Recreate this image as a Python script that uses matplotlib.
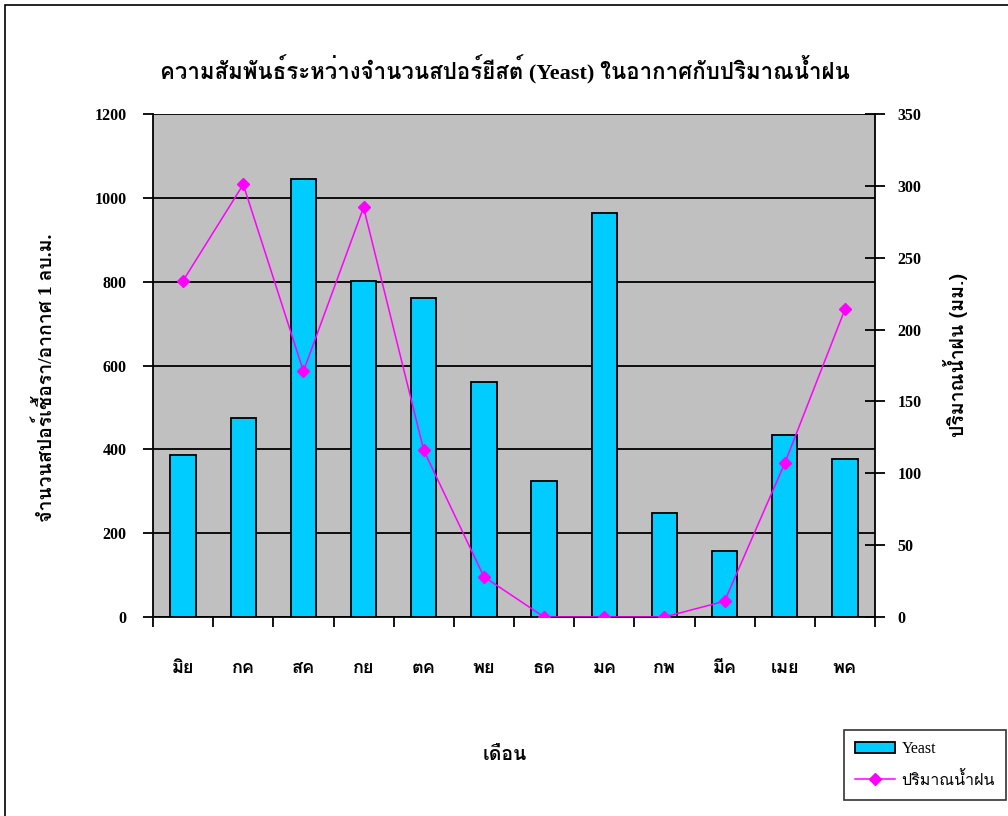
import matplotlib
matplotlib.use("Agg")
import matplotlib.pyplot as plt
from matplotlib import font_manager
from matplotlib.ft2font import FT2Font
from matplotlib.lines import Line2D
from matplotlib.patches import Patch, Rectangle
import numpy as np

months = ["มิย", "กค", "สค", "กย", "ตค", "พย", "ธค", "มค", "กพ", "มีค", "เมย", "พค"]
yeast = [387, 475, 1044, 802, 760, 560, 325, 963, 248, 157, 435, 377]
rain = [234, 301, 171, 285, 116, 28, 0, 0, 0, 11, 107, 214]

left_ticks = [0, 200, 400, 600, 800, 1000, 1200]
right_ticks = [0, 50, 100, 150, 200, 250, 300, 350]

title = "ความสัมพันธ์ระหว่างจำนวนสปอร์ยีสต์ (Yeast) ในอากาศกับปริมาณน้ำฝน"
ylabel_left = "จำนวนสปอร์เชื้อรา/อากาศ 1 ลบ.ม."
ylabel_right = "ปริมาณน้ำฝน (มม.)"
xlabel = "เดือน"
legend_labels = ["Yeast", "ปริมาณน้ำฝน"]


def thai_family():
    # first installed face that actually carries Thai glyphs
    for f in font_manager.fontManager.ttflist:
        try:
            if FT2Font(f.fname).get_char_index(0x0E01):
                return f.name
        except Exception:
            continue
    return "DejaVu Sans"


THAI = thai_family()
NUM = "Liberation Serif"
TH = [THAI, "DejaVu Sans"]
MIX = [NUM, THAI, "DejaVu Sans"]   # serif latin, thai falls through

fig = plt.figure(figsize=(10.08, 8.16), dpi=100)
fig.patch.set_facecolor("white")

# outer chart frame
fig.add_artist(Rectangle((5 / 1008, -0.1), 1.2, 1 - 5 / 816 + 0.1,
                         transform=fig.transFigure, fill=False,
                         edgecolor="black", linewidth=1.2))

ax = fig.add_axes([153 / 1008, 199 / 816, 722 / 1008, 503 / 816])
ax.set_facecolor("#c0c0c0")
x = np.arange(len(months))

ax.bar(x, yeast, width=0.42, color="#00ccff", edgecolor="black",
       linewidth=1.3, zorder=3)
ax.set_xlim(-0.5, len(months) - 0.5)
ax.set_ylim(0, 1200)
ax.set_yticks(left_ticks)
ax.yaxis.grid(True, color="black", linewidth=1.3, zorder=1)
ax.set_axisbelow(True)
for s in ("top", "right"):
    ax.spines[s].set_visible(False)
ax.spines["left"].set_linewidth(1.3)
ax.spines["bottom"].set_linewidth(1.3)
ax.tick_params(axis="y", direction="out", length=7, width=1.3, pad=12)
for lab in ax.get_yticklabels():
    lab.set_fontfamily(NUM)
    lab.set_fontweight("bold")
    lab.set_fontsize(11.5)

# month names centred, boundary ticks between them
ax.set_xticks(x)
ax.set_xticklabels(months, fontfamily=TH, fontsize=13, fontweight="bold")
ax.tick_params(axis="x", which="major", length=0, pad=30)
ax.set_xticks(np.arange(-0.5, len(months)), minor=True)
ax.tick_params(axis="x", which="minor", direction="out", length=7, width=1.3)

ax2 = ax.twinx()
ax2.plot(x, rain, color="#ff00ff", linewidth=1.1, marker="D",
         markersize=6, zorder=4)
ax2.set_ylim(0, 350)
ax2.set_yticks(right_ticks)
for s in ("top", "left", "bottom"):
    ax2.spines[s].set_visible(False)
ax2.spines["right"].set_linewidth(1.3)
ax2.tick_params(axis="y", direction="inout", length=14, width=1.3, pad=9)
for lab in ax2.get_yticklabels():
    lab.set_fontfamily(NUM)
    lab.set_fontweight("bold")
    lab.set_fontsize(11.5)

fig.text(505 / 1008, 1 - 70 / 816, title, ha="center", va="center",
         fontfamily=MIX, fontsize=16, fontweight="bold")
fig.text(45 / 1008, 1 - 378 / 816, ylabel_left, ha="center", va="center",
         rotation=90, fontfamily=MIX, fontsize=14, fontweight="bold")
fig.text(955 / 1008, 1 - 355 / 816, ylabel_right, ha="center", va="center",
         rotation=90, fontfamily=TH, fontsize=14, fontweight="bold")
fig.text(505 / 1008, 1 - 755 / 816, xlabel, ha="center", va="center",
         fontfamily=TH, fontsize=14, fontweight="bold")

handles = [Patch(facecolor="#00ccff", edgecolor="black", linewidth=1.3),
           Line2D([], [], color="#ff00ff", marker="D", markersize=6, linewidth=1.1)]
leg = fig.legend(handles, legend_labels, loc="upper left",
                 bbox_to_anchor=(836 / 1008, 1 - 722 / 816),
                 prop={"family": MIX, "size": 11.5}, frameon=True, fancybox=False,
                 borderpad=0.7, labelspacing=0.9, handlelength=2.5,
                 handletextpad=0.4)
leg.get_frame().set_edgecolor("black")
leg.get_frame().set_linewidth(1.2)

fig.savefig("out.png", dpi=100)
